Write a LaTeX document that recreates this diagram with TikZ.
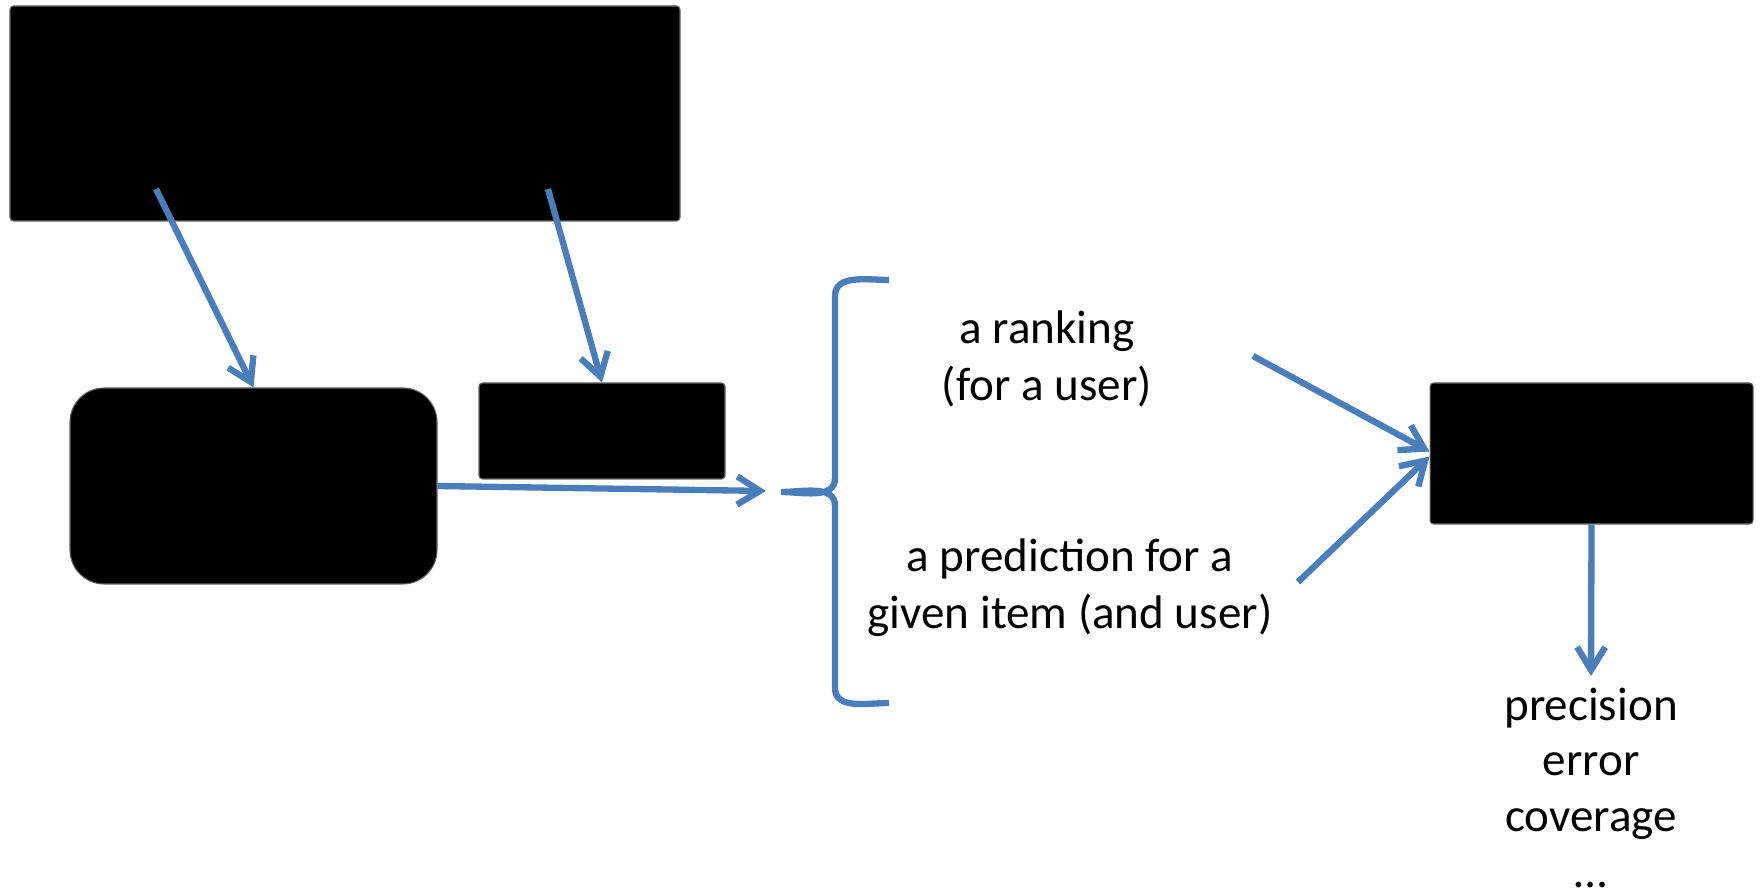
\documentclass[tikz,border=0pt]{standalone}
\usepackage{fontspec}
\setmainfont{Carlito}
\usepackage{tikz}
\usetikzlibrary{arrows.meta, positioning, calc}

\definecolor{lineblue}{HTML}{4A7EBB}

\begin{document}
\begin{tikzpicture}[>={Straight Barb[length=6.5pt, width=8pt]},
    block/.style={rectangle, draw=black!60, line width=0.3pt, fill=black,
                  rounded corners=1pt, inner sep=0pt},
    flow/.style={->, line width=1.8pt, lineblue},
    label/.style={align=center, font=\fontsize{13.4pt}{16.2pt}\selectfont,
                  inner sep=0pt}]

    \useasboundingbox (0,0) rectangle (17.62,-8.93);

    % blocks
    \node[block, minimum width=6.70cm, minimum height=2.15cm] (data) at (3.45,-1.135) {};
    \node[block, minimum width=3.67cm, minimum height=1.96cm, rounded corners=0.34cm] (model) at (2.535,-4.86) {};
    \node[block, minimum width=2.46cm, minimum height=0.96cm] (param) at (6.02,-4.31) {};
    \node[block, minimum width=3.23cm, minimum height=1.41cm] (eval) at (15.915,-4.535) {};

    % outputs and measures
    \node[label] (rank) at (10.47,-3.585) {a ranking\\(for a user)};
    \node[label] (pred) at (10.70,-5.88) {a prediction for a\\given item (and user)};
    \node[label, anchor=north, font=\fontsize{13.4pt}{15.9pt}\selectfont] (metrics) at (15.91,-6.87) {precision\\error\\coverage\\…};
    \coordinate (m1) at ([yshift=0.11cm]metrics.north);

    % brace
    \coordinate (tip) at (7.81,-4.92);
    \draw[line width=1.8pt, lineblue] (8.89,-2.80) to[out=180, in=90] (8.35,-2.96)
        -- (8.35,-4.78) to[out=-90, in=0] (tip) to[out=0, in=90] (8.35,-5.06)
        -- (8.35,-6.88) to[out=-90, in=180] (8.89,-7.03);

    \coordinate (d1) at (1.56,-1.89);
    \coordinate (d2) at (5.48,-1.89);
    \coordinate (r1) at (12.53,-3.56);
    \coordinate (p1) at (12.98,-5.82);

    \draw[flow] (d1) -- (model.north);
    \draw[flow] (d2) -- (param.north);
    \draw[flow] (model.east) -- ([xshift=-0.15cm, yshift=0.01cm]tip);
    \draw[flow] (r1) -- ([yshift=0.02cm]eval.west);
    \draw[flow] (p1) -- ([yshift=-0.03cm]eval.west);
    \draw[flow] (eval.south) -- (m1);
\end{tikzpicture}
\end{document}
